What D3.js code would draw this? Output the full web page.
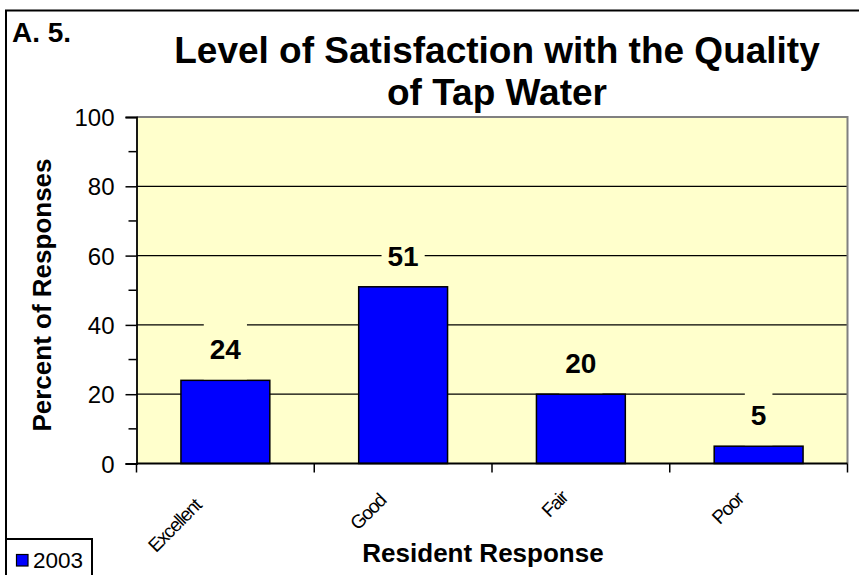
<!DOCTYPE html>
<html>
<head>
<meta charset="utf-8">
<script src="https://cdn.jsdelivr.net/npm/d3@7"></script>
<style>
  html, body { margin: 0; padding: 0; background: #ffffff; }
  svg { display: block; font-family: "Liberation Sans", Arial, sans-serif; }
</style>
</head>
<body>
<svg id="chart" width="859" height="575"></svg>
<script>
// ---- data ----
const categories = ["Excellent", "Good", "Fair", "Poor"];
const values2003 = [24, 51, 20, 5];
const seriesName = "2003";
const yMajorTicks = [0, 20, 40, 60, 80, 100];
const yMinorTicks = [10, 30, 50, 70, 90];
const titleLines = ["Level of Satisfaction with the Quality", "of Tap Water"];
const sectionLabel = "A. 5.";
const yTitle = "Percent of Responses";
const xTitle = "Resident Response";

// ---- layout ----
const W = 859, H = 575;
const plot = { left: 136.5, right: 847.5, top: 117, bottom: 463.5 };
const svg = d3.select("#chart");

const x = d3.scaleBand().domain(categories).range([plot.left, plot.right])
  .paddingInner(0.5).paddingOuter(0.25);
const y = d3.scaleLinear().domain([0, 100]).range([plot.bottom, plot.top]);

// outer frame (top and left lines)
svg.append("path").attr("d", `M6,${H + 5} L6,10.5 L${W + 5},10.5`)
  .attr("fill", "none").attr("stroke", "#000").attr("stroke-width", 2);

// plot background
svg.append("rect").attr("x", plot.left).attr("y", plot.top)
  .attr("width", plot.right - plot.left).attr("height", plot.bottom - plot.top)
  .attr("fill", "#FFFFCC");

// gridlines
svg.append("g").selectAll("line").data(yMajorTicks.filter(d => d > 0 && d < 100)).join("line")
  .attr("x1", plot.left).attr("x2", plot.right)
  .attr("y1", d => y(d)).attr("y2", d => y(d))
  .attr("stroke", "#000").attr("stroke-width", 1.2);

// plot border top/right gray
svg.append("path").attr("d", `M${plot.left},${plot.top} L${plot.right},${plot.top} L${plot.right},${plot.bottom}`)
  .attr("fill", "none").attr("stroke", "#808080").attr("stroke-width", 2);

// bars
svg.append("g").selectAll("rect").data(values2003).join("rect")
  .attr("x", (d, i) => x(categories[i]))
  .attr("y", d => y(d))
  .attr("width", x.bandwidth())
  .attr("height", d => y(0) - y(d))
  .attr("fill", "#0000FF").attr("stroke", "#000").attr("stroke-width", 1.5);

// y axis
const yAxis = d3.axisLeft(y).tickValues(yMajorTicks).tickSize(11).tickPadding(11);
const gy = svg.append("g").attr("transform", `translate(${plot.left},0)`).call(yAxis);
gy.select(".domain").attr("stroke", "#000").attr("stroke-width", 1.8);
gy.selectAll(".tick line").attr("stroke", "#000").attr("stroke-width", 1.5);
gy.selectAll(".tick text").attr("font-size", 24).attr("fill", "#000")
  .attr("font-family", "'Liberation Sans', Arial, sans-serif").attr("dy", "0.36em");
svg.append("g").selectAll("line").data(yMinorTicks).join("line")
  .attr("x1", plot.left - 8).attr("x2", plot.left)
  .attr("y1", d => y(d)).attr("y2", d => y(d))
  .attr("stroke", "#000").attr("stroke-width", 1.5);
gy.select(".domain").raise();

// x axis line and ticks at category boundaries
const boundaries = categories.map(c => x(c) - x.step() * 0.25).concat([plot.right]);
svg.append("line").attr("x1", plot.left).attr("x2", plot.right)
  .attr("y1", plot.bottom).attr("y2", plot.bottom)
  .attr("stroke", "#000").attr("stroke-width", 1.8);
svg.append("g").selectAll("line").data(boundaries).join("line")
  .attr("x1", d => d).attr("x2", d => d)
  .attr("y1", plot.bottom).attr("y2", plot.bottom + 9)
  .attr("stroke", "#000").attr("stroke-width", 1.5);

// x tick labels rotated -45
const xl = svg.append("g").selectAll("text").data(categories).join("text")
  .attr("font-size", 19).attr("text-anchor", "end").attr("fill", "#000")
  .attr("letter-spacing", -1.3)
  .text(d => d);
xl.each(function (d) {
  const L = this.getComputedTextLength();
  const cx = x(d) + x.bandwidth() / 2;
  const ax = cx - (3.9 + 0.294 * L);
  const ay = 493 + 0.214 * L;
  d3.select(this).attr("transform", `translate(${ax},${ay}) rotate(-45)`);
});

// data labels with background
const lbl = svg.append("g");
values2003.forEach((v, i) => {
  const cx = x(categories[i]) + x.bandwidth() / 2;
  const cy = y(v) - 31;
  const g = lbl.append("g");
  const bg = g.append("rect").attr("fill", "#FFFFCC");
  const t = g.append("text").attr("x", cx).attr("y", cy).attr("dy", "0.36em")
    .attr("text-anchor", "middle").attr("font-size", 28).attr("font-weight", "bold")
    .attr("fill", "#000").text(v);
  const tw = t.node().getComputedTextLength();
  bg.attr("x", cx - tw / 2 - 6).attr("y", cy - 30).attr("width", tw + 12).attr("height", 60);
});

// titles
svg.append("text").attr("x", 12).attr("y", 41.5).attr("font-size", 28)
  .attr("font-weight", "bold").attr("fill", "#000").text(sectionLabel);
svg.append("g").selectAll("text").data(titleLines).join("text")
  .attr("x", 497).attr("y", (d, i) => 63 + i * 42)
  .attr("text-anchor", "middle").attr("font-size", 37).attr("font-weight", "bold")
  .attr("fill", "#000").text(d => d);

svg.append("text").attr("transform", `translate(51,295) rotate(-90)`)
  .attr("text-anchor", "middle").attr("font-size", 26).attr("font-weight", "bold")
  .attr("fill", "#000").text(yTitle);
svg.append("text").attr("x", 483).attr("y", 562)
  .attr("text-anchor", "middle").attr("font-size", 26).attr("font-weight", "bold")
  .attr("fill", "#000").text(xTitle);

// legend
svg.append("rect").attr("x", 6).attr("y", 539).attr("width", 86).attr("height", 50)
  .attr("fill", "#fff").attr("stroke", "#000").attr("stroke-width", 2);
svg.append("rect").attr("x", 16.5).attr("y", 554.5).attr("width", 11.5).attr("height", 11.5)
  .attr("fill", "#0000FF").attr("stroke", "#000").attr("stroke-width", 1.2);
svg.append("text").attr("x", 33).attr("y", 568).attr("font-size", 22.5)
  .attr("fill", "#000").text(seriesName);
</script>
</body>
</html>
